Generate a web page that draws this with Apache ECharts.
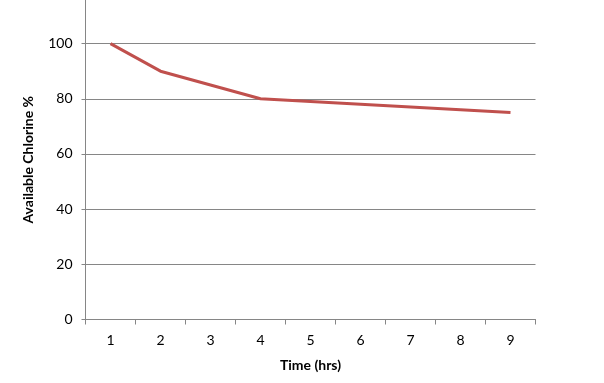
<!DOCTYPE html>
<html>
<head>
<meta charset="utf-8">
<script src="https://cdn.jsdelivr.net/npm/echarts@6/dist/echarts.min.js"></script>
<style>html,body{margin:0;padding:0;background:#fff;overflow:hidden}#c{width:604px;height:383px}</style>
</head>
<body>
<div id="c"></div>
<script>
const categories = ['1','2','3','4','5','6','7','8','9'];
const chlorine = [100, 90, 85, 80, 79, 78, 77, 76, 75];
const yTicks = {min: 0, max: 115.8, interval: 20};

const chart = echarts.init(document.getElementById('c'), null, {renderer: 'canvas'});
chart.setOption({
  animation: false,
  backgroundColor: '#ffffff',
  grid: {left: 85.5, right: 68.5, top: 0, bottom: 63.5, containLabel: false},
  xAxis: {
    type: 'category',
    data: categories,
    boundaryGap: true,
    name: 'Time (hrs)',
    nameLocation: 'middle',
    nameGap: 39,
    nameTextStyle: {fontFamily: 'Lato', fontWeight: 'bold', fontSize: 14, color: '#000'},
    axisLine: {lineStyle: {color: '#868686', width: 1}},
    axisTick: {show: true, length: 5, alignWithLabel: false, lineStyle: {color: '#868686'}},
    axisLabel: {fontFamily: 'Lato', fontSize: 14, color: '#000', margin: 14}
  },
  yAxis: {
    type: 'value',
    min: yTicks.min, max: yTicks.max, interval: yTicks.interval,
    name: 'Available Chlorine %',
    nameLocation: 'middle',
    nameGap: 50,
    nameTextStyle: {fontFamily: 'Lato', fontWeight: 'bold', fontSize: 14, color: '#000'},
    axisLine: {show: true, lineStyle: {color: '#868686', width: 1}},
    axisTick: {show: true, length: 4, lineStyle: {color: '#868686'}},
    axisLabel: {fontFamily: 'Lato', fontSize: 14, color: '#000', margin: 13, showMaxLabel: false,
      formatter: v => (v % 20 === 0 ? String(v) : '')},
    splitLine: {show: true, showMaxLine: false, lineStyle: {color: '#868686', width: 1}}
  },
  series: [{
    type: 'line',
    data: chlorine,
    symbol: 'none',
    lineStyle: {color: '#C0504D', width: 3},
    itemStyle: {color: '#C0504D'}
  }]
});
</script>
</body>
</html>
